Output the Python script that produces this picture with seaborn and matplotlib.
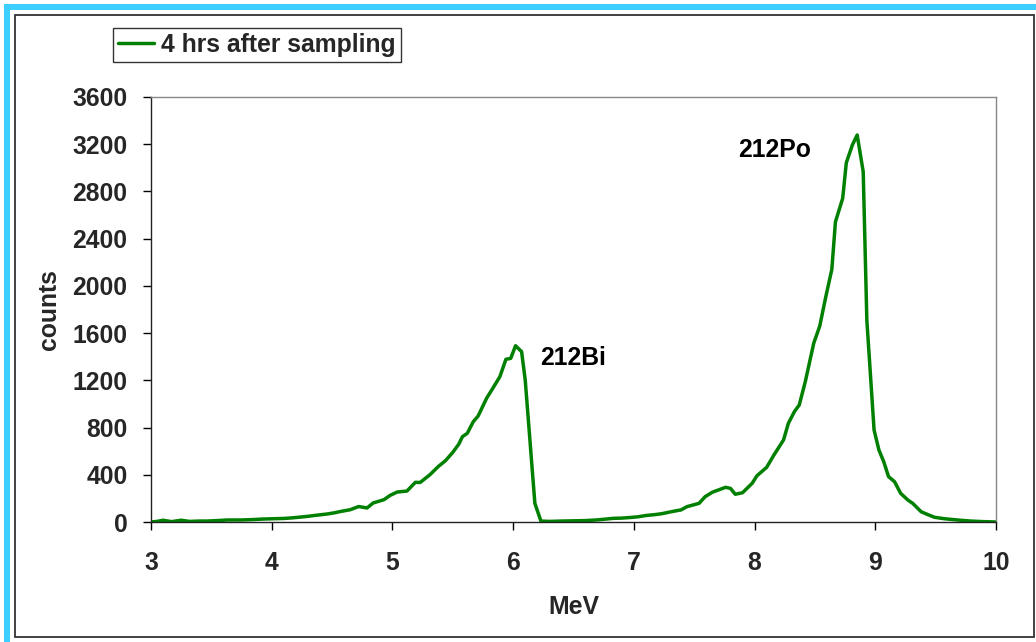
import matplotlib
matplotlib.use("Agg")
import matplotlib.pyplot as plt
import seaborn as sns
import pandas as pd
from matplotlib.patches import Rectangle

# ---- data ----
energy_mev = [3.00, 3.05, 3.10, 3.17, 3.25, 3.32, 3.40, 3.46, 3.55, 3.63, 3.74, 3.83, 3.93,
              4.02, 4.10, 4.17, 4.24, 4.30, 4.35, 4.41, 4.46, 4.52, 4.57, 4.65, 4.72, 4.79,
              4.84, 4.93, 4.98, 5.04, 5.12, 5.19, 5.23, 5.31, 5.38, 5.44, 5.50, 5.55, 5.58,
              5.62, 5.67, 5.71, 5.78, 5.83, 5.89, 5.94, 5.98, 6.02, 6.07, 6.10, 6.18, 6.23,
              6.30, 6.40, 6.50, 6.60, 6.70, 6.77, 6.83, 6.90, 6.97, 7.04, 7.10, 7.17, 7.23,
              7.30, 7.35, 7.39, 7.44, 7.54, 7.59, 7.65, 7.70, 7.76, 7.80, 7.84, 7.90, 7.98,
              8.02, 8.10, 8.16, 8.24, 8.28, 8.33, 8.37, 8.42, 8.49, 8.54, 8.59, 8.64, 8.67,
              8.73, 8.76, 8.81, 8.85, 8.90, 8.93, 8.99, 9.03, 9.07, 9.11, 9.16, 9.21, 9.27,
              9.31, 9.38, 9.43, 9.49, 9.57, 9.68, 9.79, 9.90, 10.00]
counts = [0, 5, 15, 3, 15, 5, 8, 8, 12, 17, 17, 20, 25,
          28, 30, 35, 42, 48, 55, 62, 68, 78, 89, 104, 131, 119,
          161, 189, 225, 254, 262, 336, 335, 400, 470, 520, 590, 660, 723,
          751, 850, 898, 1048, 1130, 1231, 1378, 1386, 1493, 1443, 1203, 158, 8,
          5, 8, 10, 12, 18, 25, 31, 33, 38, 45, 55, 62, 70,
          85, 95, 102, 130, 158, 214, 252, 271, 294, 285, 235, 248, 328,
          392, 463, 567, 695, 836, 935, 991, 1188, 1514, 1660, 1908, 2140, 2543,
          2742, 3043, 3193, 3278, 2967, 1711, 779, 610, 511, 384, 341, 243, 186,
          158, 87, 65, 40, 28, 17, 8, 3, 0]
series_label = "4 hrs after sampling"
x_ticks = [3, 4, 5, 6, 7, 8, 9, 10]
y_ticks = [0, 400, 800, 1200, 1600, 2000, 2400, 2800, 3200, 3600]
peak_labels = ["212Bi", "212Po"]
peak_label_pos = [(6.22, 1390), (7.86, 3150)]

df = pd.DataFrame({"MeV": energy_mev, "counts": counts, "series": series_label})

sns.set_style("white")
plt.rcParams["font.family"] = ["Liberation Sans", "DejaVu Sans"]
plt.rcParams["font.weight"] = "bold"

FS = 17.8
W, H = 1036, 642
fig = plt.figure(figsize=(W / 100, H / 100), dpi=100)
fig.patch.set_facecolor("white")

# decorative frame: cyan band (left/top) and inner dark frame
cyan = "#3DCFFF"
fig.patches.append(Rectangle((4 / W, 0), 6 / W, 1 - 4 / H, transform=fig.transFigure,
                             facecolor=cyan, edgecolor="none", zorder=0))
fig.patches.append(Rectangle((4 / W, 1 - 10 / H), 1 - 4 / W, 6 / H, transform=fig.transFigure,
                             facecolor=cyan, edgecolor="none", zorder=0))
fig.patches.append(Rectangle((15 / W, 1 - 637 / H), (1034 - 15) / W, (637 - 15) / H,
                             transform=fig.transFigure, facecolor="none",
                             edgecolor="#333333", linewidth=1.3, zorder=0))

ax = fig.add_axes([151 / W, 1 - 522 / H, (996 - 151) / W, (522 - 97) / H])
ax.set_facecolor("white")

sns.lineplot(data=df, x="MeV", y="counts", hue="series", palette=["#008000"],
             sort=False, estimator=None, linewidth=2.5, ax=ax, legend=True)

ax.set_xlim(3, 10)
ax.set_ylim(0, 3600)
ax.set_xticks(x_ticks)
ax.set_yticks(y_ticks)
ax.set_xticklabels([str(t) for t in x_ticks], fontsize=FS, fontweight="bold")
ax.set_yticklabels([str(t) for t in y_ticks], fontsize=FS, fontweight="bold")
ax.tick_params(axis="x", direction="out", length=6, width=1, color="black", pad=15,
               bottom=True)
ax.tick_params(axis="y", direction="out", length=6, width=1, color="black", pad=11,
               left=True)

for side in ["left", "bottom"]:
    ax.spines[side].set_color("#222222")
    ax.spines[side].set_linewidth(1.0)
for side in ["top", "right"]:
    ax.spines[side].set_color("#888888")
    ax.spines[side].set_linewidth(1.0)
    ax.spines[side].set_visible(True)

ax.set_xlabel("MeV", fontsize=FS, fontweight="bold", labelpad=14)
ax.set_ylabel("counts", fontsize=FS, fontweight="bold", labelpad=8)

for lab, (px, py) in zip(peak_labels, peak_label_pos):
    ax.text(px, py, lab, fontsize=FS, fontweight="bold", ha="left", va="center",
            color="black")

# legend
handles, labels = ax.get_legend_handles_labels()
ax.get_legend().remove()
leg = fig.legend(handles, labels, loc="upper left",
                 bbox_to_anchor=(113 / W, 1 - 28 / H), bbox_transform=fig.transFigure,
                 prop={"size": FS, "weight": "bold"}, frameon=True, fancybox=False,
                 shadow=False, borderaxespad=0, borderpad=0.2, handlelength=1.45,
                 handletextpad=0.3)
leg.get_frame().set_edgecolor("black")
leg.get_frame().set_linewidth(1.0)
for l in leg.get_lines():
    l.set_linewidth(2.5)

fig.savefig("out.png", dpi=100, facecolor="white")
